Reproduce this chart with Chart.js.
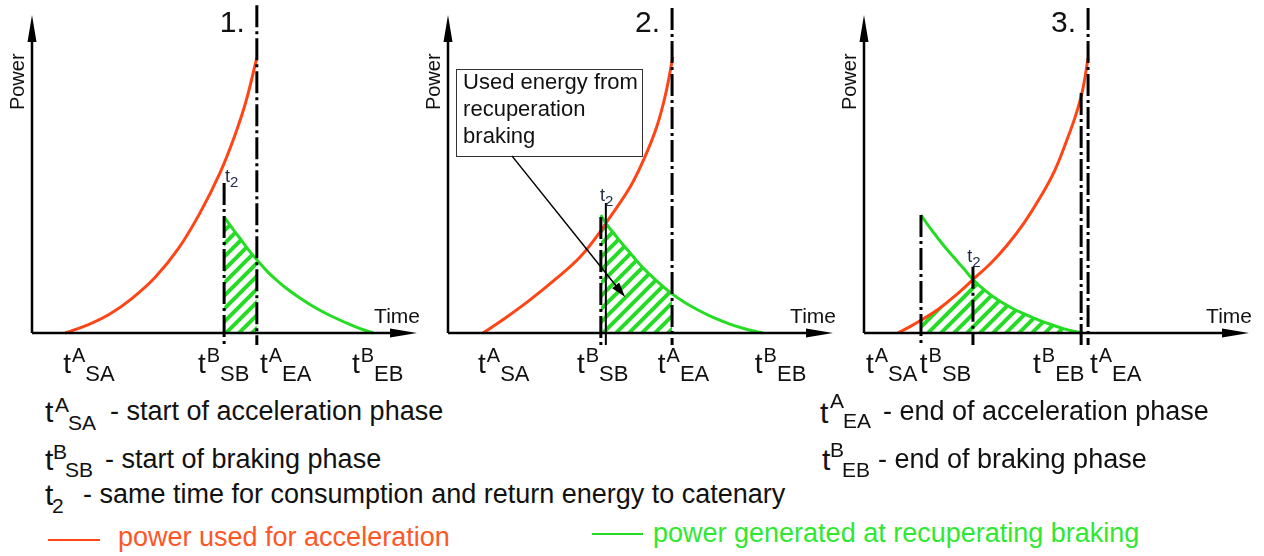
<!DOCTYPE html>
<html>
<head>
<meta charset="utf-8">
<script src="https://cdn.jsdelivr.net/npm/chart.js@4.4.1/dist/chart.umd.min.js"></script>
<style>
  html, body { margin: 0; padding: 0; background: #fff; }
  body { width: 1264px; height: 556px; position: relative; overflow: hidden; font-family: "Liberation Sans", Arial, sans-serif; }
  .panel { position: absolute; top: 0; width: 430px; height: 390px; }
  .txt { position: absolute; white-space: pre; line-height: 1; color: #111; }
  .key { position: absolute; height: 2px; }
</style>
</head>
<body>
<div class="panel" style="left:0px"><canvas id="p1" width="430" height="390"></canvas></div>
<div class="panel" style="left:416px"><canvas id="p2" width="430" height="390"></canvas></div>
<div class="panel" style="left:832px"><canvas id="p3" width="430" height="390"></canvas></div>
<script>
// curves as [time, power], both axes run 0..100
const redPanel1 = [[8.6, 0], [14, 2.3], [20, 5.8], [26, 10.9], [32, 17.5], [38, 26.5], [43.6, 37.7], [48.8, 50.3], [52.5, 61.5], [55.5, 72.5], [58.4, 86.5]];
const greenPanel1 = [[49.9, 36.5], [52, 33.0], [54, 29.8], [56.2, 26.2], [58.4, 23.0], [61.4, 19.0], [64.4, 15.7], [67, 13.2], [69.6, 11.0], [73.5, 8.0], [77.4, 5.5], [83.9, 2.0], [88.6, 0]];

const redPanel2 = [[9.1, 0], [15, 4.8], [21.3, 10.4], [28, 17], [34.3, 23.9], [39.7, 32.1], [41.0, 34.5], [47.3, 45.9], [51, 55], [54.2, 64.8], [56.5, 75], [58.4, 86.8]];
const greenPanel2 = [[39.7, 37.1], [41.0, 34.5], [42.9, 31.6], [45, 28.4], [47.3, 25.2], [49.5, 22.0], [51.7, 19.2], [55, 15.5], [58.2, 12.3], [61.5, 9.6], [64.7, 7.4], [69, 4.8], [73.2, 2.8], [77.5, 1.2], [81.8, 0]];

const redPanel3 = [[8.8, 0], [11.5, 1.7], [14.8, 4.0], [19.2, 7.4], [23.8, 11.8], [28.3, 16.8], [33, 22.0], [37.1, 27.5], [41.5, 34.5], [45.7, 42.5], [49.5, 51.0], [52.7, 60.7], [55, 68.5], [56.8, 76.5], [58.2, 86.5]];
const greenPanel3 = [[14.8, 37.1], [17, 33.3], [19.2, 29.8], [21.4, 26.5], [23.6, 23.4], [26, 20.1], [28.3, 16.8], [31.5, 13.3], [34.5, 10.6], [38, 8.1], [41, 6.3], [44.5, 4.5], [47.5, 3.1], [52, 1.3], [56.4, 0]];

// event times per panel
const eventNames = ['tSA', 'tSB', 't2', 'tEA', 'tEB'];
const eventsPanel1 = [8.6, 49.9, 49.9, 58.4, 88.6];
const eventsPanel2 = [9.1, 39.7, 41.0, 58.2, 81.8];
const eventsPanel3 = [8.8, 14.8, 28.3, 58.2, 56.4];

// vertical marker lines: [event, power value at the top of the line]
const markersPanel1 = [['tSB', 47.2], ['tEA', 103.1]];
const markersPanel2 = [['tSB', 36.5], ['t2', 40.9], ['tEA', 102.2]];
const markersPanel3 = [['tSB', 37.1], ['t2', 20.8], ['tEB', 75.5], ['tEA', 102.2]];
const markerFloor = -3.8;

// tick labels under the time axis
const tickLabels = [['A', 'SA'], ['B', 'SB'], ['A', 'EA'], ['B', 'EB']];
const tickPosPanel1 = [8.1, 43.1, 59.2, 83.1];
const tickPosPanel2 = [7.8, 33.5, 54.5, 79.7];
const tickPosPanel3 = [0.5, 14.5, 58.7, 43.9];
const t2LabelPanel1 = [50.1, 47.5];
const t2LabelPanel2 = [39.5, 41.5];
const t2LabelPanel3 = [26.8, 22.3];

const panelTitles = ['1.', '2.', '3.'];
const axisTitles = ['Power', 'Time'];
const seriesNames = ['power used for acceleration', 'power generated at recuperating braking'];
const noteLines = ['Used energy from', 'recuperation', 'braking'];
const noteBox = [2.1, 50.4, 55.7, 83.0];
const noteArrow = [[16.6, 55.7], [46.0, 11.3]];

const RED = '#ff4515';
const GREEN = '#25dc25';
const FONT = '"Liberation Sans", Arial, sans-serif';

function hatchPattern() {
  const s = 13, c = document.createElement('canvas');
  c.width = s; c.height = s;
  const g = c.getContext('2d');
  g.strokeStyle = GREEN; g.lineWidth = 4;
  g.beginPath();
  g.moveTo(-3, 3); g.lineTo(3, -3);
  g.moveTo(0, s); g.lineTo(s, 0);
  g.moveTo(s - 3, s + 3); g.lineTo(s + 3, s - 3);
  g.stroke();
  return g.createPattern(c, 'repeat');
}
const hatch = hatchPattern();

const toXY = pts => pts.map(([x, y]) => ({ x, y }));

// area under the lower curve between start of braking and the first end event
function hatchArea(red, green, ev) {
  const end = Math.min(ev.tEA, ev.tEB);
  const pts = red.filter(p => p[0] >= ev.tSB && p[0] <= ev.t2)
    .concat(green.filter(p => p[0] >= ev.t2 && p[0] <= end));
  return pts.filter((p, i) => i === 0 || p[0] !== pts[i - 1][0]);
}

const diagram = {
  id: 'diagram',
  afterDatasetsDraw(chart, args, o) {
    const { ctx, scales: { x, y } } = chart;
    const px = v => x.getPixelForValue(v), py = v => y.getPixelForValue(v);
    const ox = px(0), oy = py(0), ex = px(100), ey = py(100);
    ctx.save();
    ctx.setLineDash([]);
    ctx.fillStyle = '#000'; ctx.strokeStyle = '#000'; ctx.lineWidth = 2.5;
    ctx.beginPath();
    ctx.moveTo(ox, oy); ctx.lineTo(ex - 20, oy);
    ctx.moveTo(ox, oy); ctx.lineTo(ox, ey + 20);
    ctx.stroke();
    ctx.beginPath();
    ctx.moveTo(ex, oy); ctx.lineTo(ex - 27, oy - 4.5); ctx.lineTo(ex - 27, oy + 4.5); ctx.closePath();
    ctx.moveTo(ox, ey); ctx.lineTo(ox - 4.5, ey + 27); ctx.lineTo(ox + 4.5, ey + 27); ctx.closePath();
    ctx.fill();

    ctx.fillStyle = '#111';
    ctx.font = '20px ' + FONT;
    ctx.save();
    ctx.translate(ox - 14, py(79));
    ctx.rotate(-Math.PI / 2);
    ctx.textAlign = 'center'; ctx.textBaseline = 'middle';
    ctx.fillText(axisTitles[0], 0, 0);
    ctx.restore();

    ctx.textBaseline = 'alphabetic';
    ctx.textAlign = 'right';
    ctx.font = '21px ' + FONT;
    ctx.fillText(axisTitles[1], ex + 3, oy - 10);
    ctx.font = '30px ' + FONT;
    ctx.fillText(o.title, px(o.ev.tEA) - 12, 32);

    ctx.textAlign = 'left';
    tickLabels.forEach((lab, i) => {
      const l = px(o.ticks[i]);
      ctx.font = '28px ' + FONT;
      ctx.fillText('t', l, oy + 40);
      const w = ctx.measureText('t').width + 1;
      ctx.font = '20px ' + FONT;
      ctx.fillText(lab[0], l + w, oy + 29);
      const sw = ctx.measureText(lab[0]).width;
      ctx.font = '22px ' + FONT;
      ctx.fillText(lab[1], l + w + sw, oy + 48);
    });

    ctx.fillStyle = '#1d2a4a';
    const tl = px(o.t2Label[0]), tb = py(o.t2Label[1]);
    ctx.font = '18px ' + FONT;
    ctx.fillText('t', tl, tb);
    const tw = ctx.measureText('t').width;
    ctx.font = '15px ' + FONT;
    ctx.fillText('2', tl + tw, tb + 5);

    if (o.note) {
      const bx = px(noteBox[0]), by = py(noteBox[3]);
      const bw = px(noteBox[1]) - bx, bh = py(noteBox[2]) - by;
      ctx.lineWidth = 1; ctx.strokeStyle = '#333';
      ctx.strokeRect(Math.round(bx) + 0.5, Math.round(by) + 0.5, Math.round(bw), Math.round(bh));
      ctx.fillStyle = '#111'; ctx.font = '22px ' + FONT;
      noteLines.forEach((s, i) => ctx.fillText(s, bx + 7, by + 20 + i * 27));
      const ax = px(noteArrow[0][0]), ay = py(noteArrow[0][1]);
      const hx = px(noteArrow[1][0]), hy = py(noteArrow[1][1]);
      const a = Math.atan2(hy - ay, hx - ax), c = Math.cos(a), s = Math.sin(a);
      ctx.strokeStyle = '#000'; ctx.lineWidth = 1.5;
      ctx.beginPath(); ctx.moveTo(ax, ay); ctx.lineTo(hx - 12 * c, hy - 12 * s); ctx.stroke();
      ctx.fillStyle = '#000';
      ctx.beginPath();
      ctx.moveTo(hx, hy);
      ctx.lineTo(hx - 15 * c + 4.5 * s, hy - 15 * s - 4.5 * c);
      ctx.lineTo(hx - 15 * c - 4.5 * s, hy - 15 * s + 4.5 * c);
      ctx.closePath(); ctx.fill();
    }
    ctx.restore();
  }
};

const panels = [
  { id: 'p1', title: panelTitles[0], red: redPanel1, green: greenPanel1, events: eventsPanel1, markers: markersPanel1, ticks: tickPosPanel1, t2Label: t2LabelPanel1, solid: [] },
  { id: 'p2', title: panelTitles[1], red: redPanel2, green: greenPanel2, events: eventsPanel2, markers: markersPanel2, ticks: tickPosPanel2, t2Label: t2LabelPanel2, solid: ['t2'], note: true },
  { id: 'p3', title: panelTitles[2], red: redPanel3, green: greenPanel3, events: eventsPanel3, markers: markersPanel3, ticks: tickPosPanel3, t2Label: t2LabelPanel3, solid: [] }
];

panels.forEach(p => {
  const ev = Object.fromEntries(eventNames.map((n, i) => [n, p.events[i]]));

  const markerSets = p.markers.map(([name, top]) => {
    const solid = p.solid.includes(name);
    return {
      data: toXY([[ev[name], top], [ev[name], markerFloor]]),
      borderColor: '#000',
      borderWidth: solid ? 2 : 3,
      borderDash: solid ? [] : [22, 4, 3, 4],
      borderCapStyle: 'butt',
      pointRadius: 0,
      clip: false
    };
  });

  new Chart(document.getElementById(p.id), {
    type: 'line',
    data: {
      datasets: markerSets.concat([
        { label: seriesNames[1], data: toXY(p.green), borderColor: GREEN, borderWidth: 3, pointRadius: 0, tension: 0.4, clip: false },
        { label: seriesNames[0], data: toXY(p.red), borderColor: RED, borderWidth: 3, pointRadius: 0, tension: 0.4, clip: false },
        { data: toXY(hatchArea(p.red, p.green, ev)), borderWidth: 0, pointRadius: 0, fill: 'origin', backgroundColor: hatch, tension: 0 }
      ])
    },
    options: {
      responsive: false,
      animation: false,
      devicePixelRatio: 1,
      layout: { padding: { left: 32, right: 13, top: 15, bottom: 57 } },
      scales: {
        x: { type: 'linear', min: 0, max: 100, display: false },
        y: { min: 0, max: 100, display: false }
      },
      plugins: {
        legend: { display: false },
        tooltip: { enabled: false },
        diagram: { title: p.title, ev: ev, ticks: p.ticks, t2Label: p.t2Label, note: p.note }
      }
    },
    plugins: [diagram]
  });
});

// definitions and colour key below the panels
function put(text, left, base, size, color) {
  const s = document.createElement('span');
  s.className = 'txt';
  s.textContent = text;
  s.style.left = left + 'px';
  s.style.top = (base - 0.8465 * size) + 'px';
  s.style.fontSize = size + 'px';
  if (color) s.style.color = color;
  document.body.appendChild(s);
}

put('t', 45, 422, 30); put('A', 55, 412, 21); put('SA', 68, 430, 21);
put('- start of acceleration phase', 110, 421, 27);
put('t', 45, 470, 30); put('B', 53, 459, 21); put('SB', 65, 477, 21);
put('- start of braking phase', 105, 469, 27);
put('t', 45, 505, 30); put('2', 52, 513, 21);
put('- same time for consumption and return energy to catenary', 83, 504, 27);
put('t', 820, 423, 30); put('A', 830, 408, 21); put('EA', 843, 428, 21);
put('- end of acceleration phase', 883, 421, 27);
put('t', 822, 470, 30); put('B', 830, 457, 21); put('EB', 842, 477, 21);
put('- end of braking phase', 878, 469, 27);

function key(left, top, width, color) {
  const d = document.createElement('div');
  d.className = 'key';
  d.style.left = left + 'px'; d.style.top = top + 'px';
  d.style.width = width + 'px'; d.style.background = color;
  document.body.appendChild(d);
}
key(48, 539, 52, RED);
put(seriesNames[0], 118, 547, 27, '#ff5626');
key(592, 533, 51, GREEN);
put(seriesNames[1], 653, 543, 27, '#30e830');
</script>
</body>
</html>
